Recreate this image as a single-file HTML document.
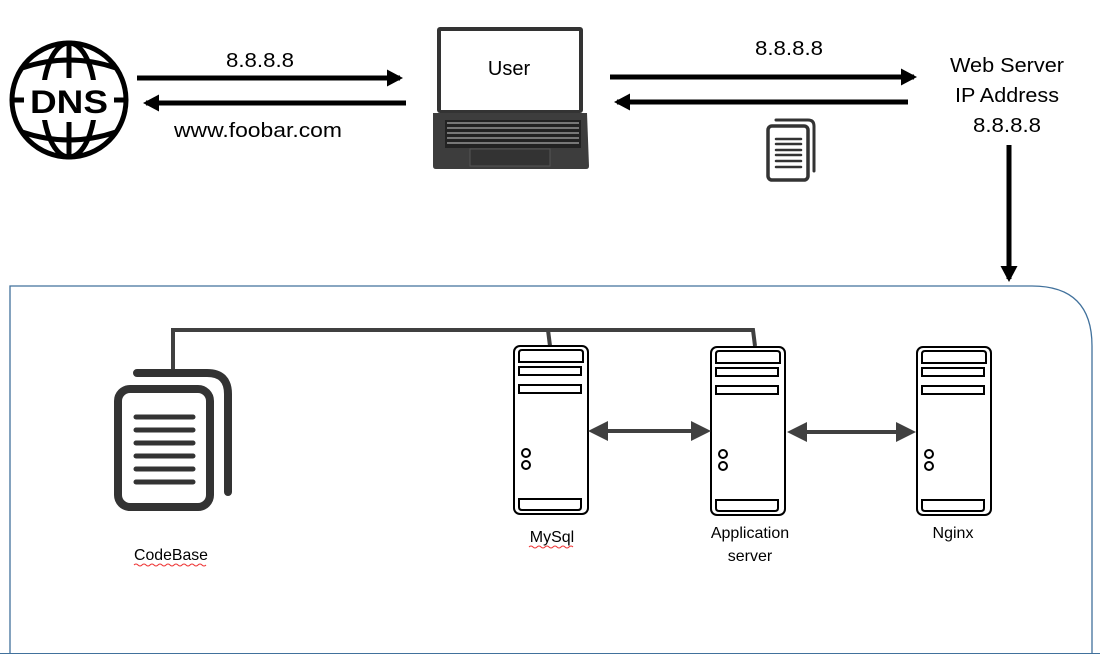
<!DOCTYPE html>
<html><head><meta charset="utf-8"><style>
html,body{margin:0;padding:0;background:#fff;}
svg{display:block;}
text{font-family:"Liberation Sans",sans-serif;}
</style></head><body>
<svg width="1100" height="655" viewBox="0 0 1100 655" xmlns="http://www.w3.org/2000/svg">
<defs>
<marker id="ah" markerWidth="3.2" markerHeight="3.4" refX="2.6" refY="1.7" orient="auto" markerUnits="strokeWidth"><path d="M0,0 L3.2,1.7 L0,3.4 z" fill="#000"/></marker>
<marker id="ag" markerWidth="5" markerHeight="5" refX="4" refY="2.5" orient="auto-start-reverse" markerUnits="strokeWidth"><path d="M0,0 L5,2.5 L0,5 z" fill="#404040"/></marker>
</defs>
<!-- DNS globe -->
<g stroke="#000" stroke-width="5" fill="none">
<circle cx="69" cy="100" r="57"/>
<ellipse cx="69" cy="100" rx="26" ry="57"/>
<line x1="69" y1="43" x2="69" y2="78"/><line x1="69" y1="122" x2="69" y2="157"/>
<path d="M22,68 Q69,52 116,68"/><path d="M22,132 Q69,148 116,132"/>
</g>
<rect x="24" y="80" width="90" height="40" fill="#fff"/>
<text x="30" y="113" font-size="32" font-weight="bold" fill="#000" textLength="78" lengthAdjust="spacingAndGlyphs">DNS</text>
<line x1="12" y1="100" x2="24" y2="100" stroke="#000" stroke-width="5"/>
<line x1="114" y1="100" x2="126" y2="100" stroke="#000" stroke-width="5"/>
<!-- arrows top -->
<line x1="137" y1="78" x2="400" y2="78" stroke="#000" stroke-width="5" marker-end="url(#ah)"/>
<line x1="406" y1="103" x2="146" y2="103" stroke="#000" stroke-width="5" marker-end="url(#ah)"/>
<text x="260" y="67" font-size="20" text-anchor="middle" textLength="68" lengthAdjust="spacingAndGlyphs">8.8.8.8</text>
<text x="258" y="137" font-size="20" text-anchor="middle" textLength="168" lengthAdjust="spacingAndGlyphs">www.foobar.com</text>
<line x1="610" y1="77" x2="914" y2="77" stroke="#000" stroke-width="5" marker-end="url(#ah)"/>
<line x1="908" y1="102" x2="617" y2="102" stroke="#000" stroke-width="5" marker-end="url(#ah)"/>
<text x="789" y="55" font-size="20" text-anchor="middle" textLength="68" lengthAdjust="spacingAndGlyphs">8.8.8.8</text>
<text x="1007" y="72" font-size="20" text-anchor="middle" textLength="114" lengthAdjust="spacingAndGlyphs">Web Server</text>
<text x="1007" y="102" font-size="20" text-anchor="middle" textLength="104" lengthAdjust="spacingAndGlyphs">IP Address</text>
<text x="1007" y="132" font-size="20" text-anchor="middle" textLength="68" lengthAdjust="spacingAndGlyphs">8.8.8.8</text>
<line x1="1009" y1="145" x2="1009" y2="279" stroke="#000" stroke-width="5" marker-end="url(#ah)"/>
<!-- laptop -->
<rect x="437" y="27" width="146" height="86" rx="3" fill="#333"/>
<rect x="441" y="31" width="138" height="79" fill="#fff"/>
<text x="509" y="75" font-size="20" text-anchor="middle">User</text>
<path d="M433,113 L587,113 L589,166 Q589,169 586,169 L436,169 Q433,169 433,166 z" fill="#3d3d3d"/>
<rect x="445" y="120" width="136" height="28" fill="#222"/>
<g fill="#777">
<rect x="447" y="122" width="132" height="2"/><rect x="447" y="127" width="132" height="2"/><rect x="447" y="132" width="132" height="2"/><rect x="447" y="137" width="132" height="2"/><rect x="447" y="142" width="132" height="2"/>
</g>
<rect x="470" y="149" width="80" height="17" fill="#333" stroke="#555"/>
<!-- small doc -->
<g stroke="#333" fill="none" stroke-linecap="round">
<path d="M776,120 L808,120 Q814,120 814,126 L814,171" stroke-width="3"/>
<rect x="768" y="126" width="40" height="54" rx="4" stroke-width="3.5" fill="#fff"/>
<g stroke-width="2.5"><line x1="776" y1="139" x2="801" y2="139"/><line x1="776" y1="144" x2="801" y2="144"/><line x1="776" y1="150" x2="801" y2="150"/><line x1="776" y1="155" x2="801" y2="155"/><line x1="776" y1="161" x2="801" y2="161"/><line x1="776" y1="167" x2="801" y2="167"/></g>
</g>
<!-- container -->
<path d="M10,653 L10,286 L1032,286 Q1092,286 1092,346 L1092,653" fill="none" stroke="#41719c" stroke-width="1.3"/>
<line x1="0" y1="653.5" x2="1100" y2="653.5" stroke="#41719c" stroke-width="1"/>
<!-- codebase connector -->
<path d="M173,374 L173,330 L753,330 L755,346" fill="none" stroke="#404040" stroke-width="4"/>
<line x1="548" y1="330" x2="550" y2="346" stroke="#404040" stroke-width="4"/>
<!-- codebase doc -->
<g stroke="#333" fill="none" stroke-linecap="round">
<path d="M137,373 L207,373 Q228,373 228,394 L228,492" stroke-width="8"/>
<rect x="118" y="389" width="92" height="118" rx="12" stroke-width="8" fill="#fff"/>
<g stroke-width="5"><line x1="136" y1="417" x2="193" y2="417"/><line x1="136" y1="430" x2="193" y2="430"/><line x1="136" y1="443" x2="193" y2="443"/><line x1="136" y1="456" x2="193" y2="456"/><line x1="136" y1="469" x2="193" y2="469"/><line x1="136" y1="482" x2="193" y2="482"/></g>
</g>
<text x="171" y="560" font-size="16" text-anchor="middle" textLength="74" lengthAdjust="spacingAndGlyphs">CodeBase</text>
<path d="M134,565 q2,-2 4,0 t4,0 t4,0 t4,0 t4,0 t4,0 t4,0 t4,0 t4,0 t4,0 t4,0 t4,0 t4,0 t4,0 t4,0 t4,0 t4,0 t4,0" stroke="#e33" fill="none" stroke-width="1"/>
<!-- servers -->
<g id="srv" stroke="#000" fill="#fff" stroke-width="2">
<rect x="514" y="346" width="74" height="168" rx="6"/>
<path d="M519,362 L519,353 Q519,350 522,350 L580,350 Q583,350 583,353 L583,362 z"/>
<rect x="519" y="367" width="62" height="8"/>
<rect x="519" y="385" width="62" height="8"/>
<circle cx="526" cy="453" r="4"/><circle cx="526" cy="465" r="4"/>
<path d="M519,499 L581,499 L581,507 Q581,510 578,510 L522,510 Q519,510 519,507 z"/>
</g>
<use href="#srv" x="197" y="1"/>
<use href="#srv" x="403" y="1"/>
<line x1="592" y1="431" x2="707" y2="431" stroke="#404040" stroke-width="4" marker-start="url(#ag)" marker-end="url(#ag)"/>
<line x1="791" y1="432" x2="912" y2="432" stroke="#404040" stroke-width="4" marker-start="url(#ag)" marker-end="url(#ag)"/>
<text x="552" y="542" font-size="16" text-anchor="middle">MySql</text>
<path d="M529,547 q2,-2 4,0 t4,0 t4,0 t4,0 t4,0 t4,0 t4,0 t4,0 t4,0 t4,0 t4,0" stroke="#e33" fill="none" stroke-width="1"/>
<text x="750" y="538" font-size="16" text-anchor="middle">Application</text>
<text x="750" y="561" font-size="16" text-anchor="middle">server</text>
<text x="953" y="538" font-size="16" text-anchor="middle">Nginx</text>
</svg>
</body></html>
